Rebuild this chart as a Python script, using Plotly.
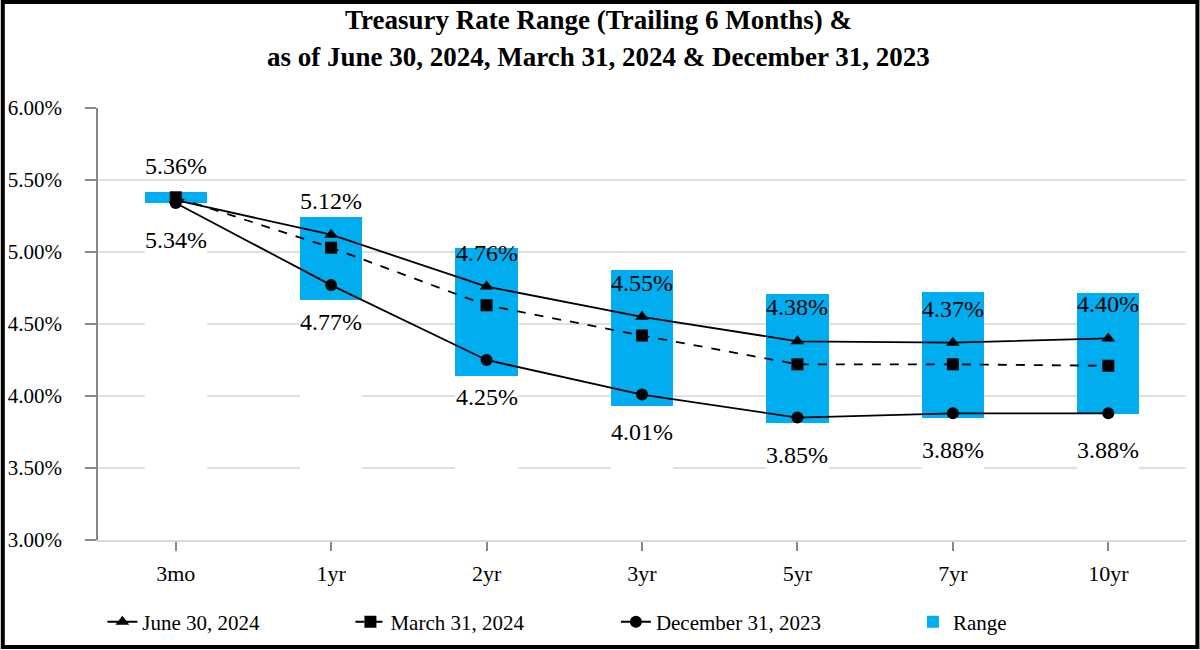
import plotly.graph_objects as go

# tenors on the curve
tenors = ["3mo", "1yr", "2yr", "3yr", "5yr", "7yr", "10yr"]

# yields in %
june_2024 = [5.36, 5.12, 4.76, 4.55, 4.38, 4.37, 4.40]
march_2024 = [5.38, 5.03, 4.63, 4.42, 4.22, 4.22, 4.21]
dec_2023 = [5.34, 4.77, 4.25, 4.01, 3.85, 3.88, 3.88]

# trailing 6 month range (low / high)
range_low = [5.34, 4.67, 4.14, 3.93, 3.81, 3.85, 3.875]
range_high = [5.42, 5.24, 5.03, 4.875, 4.71, 4.72, 4.715]

y_ticks = [3.0, 3.5, 4.0, 4.5, 5.0, 5.5, 6.0]

title_lines = ["Treasury Rate Range (Trailing 6 Months) &",
               "as of June 30, 2024, March 31, 2024 & December 31, 2023"]

FONT = "Liberation Serif"
BLUE = "#00AEEF"

fig = go.Figure()

fig.add_trace(go.Scatter(
    x=tenors, y=june_2024, name="June 30, 2024", mode="lines+markers",
    line=dict(color="black", width=1.8),
    marker=dict(symbol="triangle-up", size=12, color="black"),
    legend="legend",
))
fig.add_trace(go.Scatter(
    x=tenors, y=march_2024, name="March 31, 2024", mode="lines+markers",
    line=dict(color="black", width=1.8, dash="dash"),
    marker=dict(symbol="square", size=12, color="black"),
    legend="legend2",
))
fig.add_trace(go.Scatter(
    x=tenors, y=dec_2023, name="December 31, 2023", mode="lines+markers",
    line=dict(color="black", width=1.8),
    marker=dict(symbol="circle", size=12, color="black"),
    legend="legend3",
))

# white base bar hides the gridlines under each range, like the original
fig.add_trace(go.Bar(
    x=tenors, y=range_low, marker=dict(color="white", line=dict(width=0)),
    showlegend=False, hoverinfo="skip", width=0.4,
))
fig.add_trace(go.Bar(
    x=tenors, y=[h - l for h, l in zip(range_high, range_low)],
    name="Range", marker=dict(color=BLUE, line=dict(width=0)), width=0.4,
    legend="legend4",
))

# value labels above June / below December
for t, v in zip(tenors, june_2024):
    fig.add_annotation(x=t, y=v, text=f"{v:.2f}%", showarrow=False,
                       yshift=34, font=dict(family=FONT, size=24, color="black"))
for t, v in zip(tenors, dec_2023):
    fig.add_annotation(x=t, y=v, text=f"{v:.2f}%", showarrow=False,
                       yshift=-37, font=dict(family=FONT, size=24, color="black"))

# title as two centred lines
for txt, yy in zip(title_lines, [1.2037, 1.118]):
    fig.add_annotation(xref="paper", yref="paper", x=0.4596, y=yy,
                       text=f"<b>{txt}</b>", showarrow=False,
                       xanchor="center", yanchor="middle",
                       font=dict(family=FONT, size=27, color="black"))

# outer frame
fig.add_shape(type="rect", xref="paper", yref="paper",
              x0=-0.0875, x1=1.0105, y0=-0.2475, y1=1.2455,
              line=dict(color="black", width=4))

leg = dict(orientation="h", yanchor="middle", y=-0.19,
           font=dict(family=FONT, size=21, color="black"),
           bgcolor="rgba(0,0,0,0)")

fig.update_layout(
    width=1200, height=650,
    margin=dict(l=98, r=14, t=108, b=110, autoexpand=False),
    paper_bgcolor="white", plot_bgcolor="white",
    barmode="stack",
    font=dict(family=FONT, color="black"),
    legend=dict(leg, x=0.004),
    legend2=dict(leg, x=0.232),
    legend3=dict(leg, x=0.476),
    legend4=dict(leg, x=0.749),
)

fig.update_xaxes(
    showgrid=False, showline=True, linecolor="#d9d9d9", linewidth=2,
    ticks="outside", ticklen=9, tickcolor="#888888", tickwidth=1.5,
    ticklabelstandoff=4,
    tickfont=dict(family=FONT, size=22, color="black"),
)
fig.update_yaxes(
    range=[3.0, 6.0], tickvals=y_ticks,
    ticktext=[f"{v:.2f}%" for v in y_ticks],
    showgrid=True, gridcolor="#e0e0e0", gridwidth=2,
    showline=True, linecolor="#888888", linewidth=1.5,
    ticks="outside", ticklen=11, tickcolor="#888888", tickwidth=1.5,
    ticklabelstandoff=19,
    tickfont=dict(family=FONT, size=21, color="black"),
    zeroline=False,
)

fig.write_html("out.html", config={"displayModeBar": False},
               post_script="document.body.style.margin='0px';")
